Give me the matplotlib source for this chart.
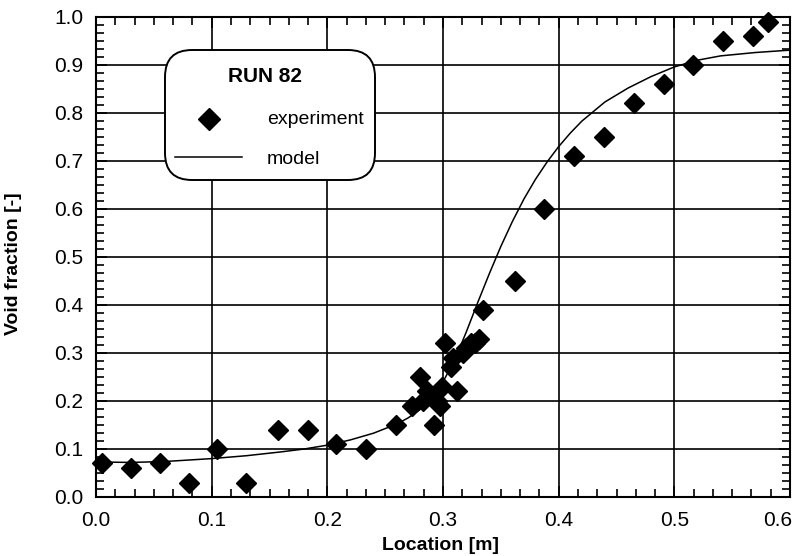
import numpy as np
import matplotlib.pyplot as plt
from matplotlib.patches import FancyBboxPatch
from matplotlib.ticker import MultipleLocator, AutoMinorLocator
from matplotlib.transforms import ScaledTranslation

plt.rcParams['font.family'] = ['Liberation Sans', 'DejaVu Sans']

# experiment (RUN 82)
exp_x = [0.005, 0.030, 0.055, 0.080, 0.105, 0.130, 0.157, 0.183, 0.2075, 0.233,
         0.259, 0.273, 0.2805, 0.283, 0.286, 0.289, 0.292, 0.295, 0.297, 0.299,
         0.302, 0.307, 0.309, 0.312, 0.317, 0.320, 0.324, 0.328, 0.331, 0.335,
         0.362, 0.387, 0.413, 0.439, 0.465, 0.491, 0.516, 0.542, 0.568, 0.581]
exp_y = [0.07, 0.06, 0.07, 0.03, 0.10, 0.03, 0.14, 0.14, 0.11, 0.10,
         0.15, 0.19, 0.25, 0.20, 0.22, 0.21, 0.15, 0.20, 0.19, 0.23,
         0.32, 0.27, 0.29, 0.22, 0.30, 0.31, 0.32, 0.32, 0.33, 0.39,
         0.45, 0.60, 0.71, 0.75, 0.82, 0.86, 0.90, 0.95, 0.96, 0.99]

# model curve
mod_x = [0.00, 0.03, 0.06, 0.10, 0.13, 0.16, 0.18, 0.20, 0.22, 0.24, 0.26, 0.27,
         0.28, 0.29, 0.30, 0.31, 0.32, 0.33, 0.34, 0.35, 0.36, 0.37, 0.38, 0.39,
         0.40, 0.41, 0.42, 0.44, 0.46, 0.48, 0.50, 0.52, 0.54, 0.57, 0.60]
mod_y = [0.073, 0.072, 0.074, 0.080, 0.086, 0.094, 0.100, 0.108, 0.119, 0.133,
         0.152, 0.165, 0.182, 0.205, 0.240, 0.285, 0.343, 0.405, 0.465, 0.522,
         0.574, 0.621, 0.662, 0.698, 0.730, 0.758, 0.783, 0.823, 0.852, 0.876,
         0.896, 0.910, 0.919, 0.926, 0.931]

W, H = 797, 556
L, R, T, B = 96, 790, 17, 497
fig = plt.figure(figsize=(W / 100, H / 100), dpi=100)
ax = fig.add_axes([L / W, 1 - B / H, (R - L) / W, (B - T) / H])

ax.plot(mod_x, mod_y, color='black', lw=1.1, zorder=3)
ax.plot(exp_x, exp_y, 'D', color='black', ms=10, zorder=4, clip_on=False)

ax.set_xlim(0, 0.6)
ax.set_ylim(0, 1.0)
ax.xaxis.set_major_locator(MultipleLocator(0.1))
ax.xaxis.set_minor_locator(AutoMinorLocator(6))
ax.yaxis.set_major_locator(MultipleLocator(0.1))
ax.yaxis.set_minor_locator(AutoMinorLocator(6))
ax.xaxis.set_major_formatter(plt.FormatStrFormatter('%.1f'))
ax.yaxis.set_major_formatter(plt.FormatStrFormatter('%.1f'))
ax.grid(True, which='major', color='black', lw=1.2)
ax.tick_params(which='both', direction='in', top=True, right=True,
               labelsize=15, width=1.2)
ax.tick_params(axis='y', pad=9)
ax.tick_params(axis='x', pad=10)
ax.tick_params(which='major', length=8)
ax.tick_params(which='minor', length=6)
for s in ax.spines.values():
    s.set_linewidth(1.5)

# pull the last x label (0.6) inside the figure like the original
fig.canvas.draw()
for tick in ax.xaxis.get_major_ticks():
    if abs(tick.get_loc() - 0.6) < 1e-6:
        tick.label1.set_transform(tick.label1.get_transform()
                                  + ScaledTranslation(-0.12, 0, fig.dpi_scale_trans))

ax.set_xlabel('Location [m]', fontsize=14, fontweight='bold')
ax.xaxis.set_label_coords((440 - L) / (R - L), (B - 545) / (B - T))
ax.xaxis.label.set_va('center')
ax.set_ylabel('Void fraction [-]', fontsize=14, fontweight='bold')
ax.yaxis.set_label_coords((14 - L) / (R - L), (B - 264) / (B - T))
ax.yaxis.label.set_va('center')

# legend box drawn by hand (rounded)
def ax_x(px):
    return (px - L) / (R - L)

def ax_y(py):
    return (B - py) / (B - T)

asp = (R - L) / (B - T)
box = FancyBboxPatch((ax_x(165), ax_y(180)), ax_x(375) - ax_x(165), ax_y(50) - ax_y(180),
                     transform=ax.transAxes,
                     boxstyle='round,pad=0.0,rounding_size=%f' % (27 / (R - L)),
                     facecolor='white', edgecolor='black', lw=1.4, zorder=5,
                     mutation_aspect=asp)
ax.add_patch(box)
ax.text(ax_x(265), ax_y(76), 'RUN 82', transform=ax.transAxes, fontsize=15,
        fontweight='bold', ha='center', va='center', zorder=6)
ax.plot([ax_x(209)], [ax_y(119)], 'D', color='black', ms=11.5,
        transform=ax.transAxes, zorder=6, clip_on=False)
ax.text(ax_x(267), ax_y(119), 'experiment', transform=ax.transAxes, fontsize=14,
        ha='left', va='center', zorder=6)
ax.plot([ax_x(175), ax_x(242)], [ax_y(157), ax_y(157)], color='black', lw=1.1,
        transform=ax.transAxes, zorder=6)
ax.text(ax_x(267), ax_y(159), 'model', transform=ax.transAxes, fontsize=14,
        ha='left', va='center', zorder=6)

fig.savefig('out.png', dpi=100)
